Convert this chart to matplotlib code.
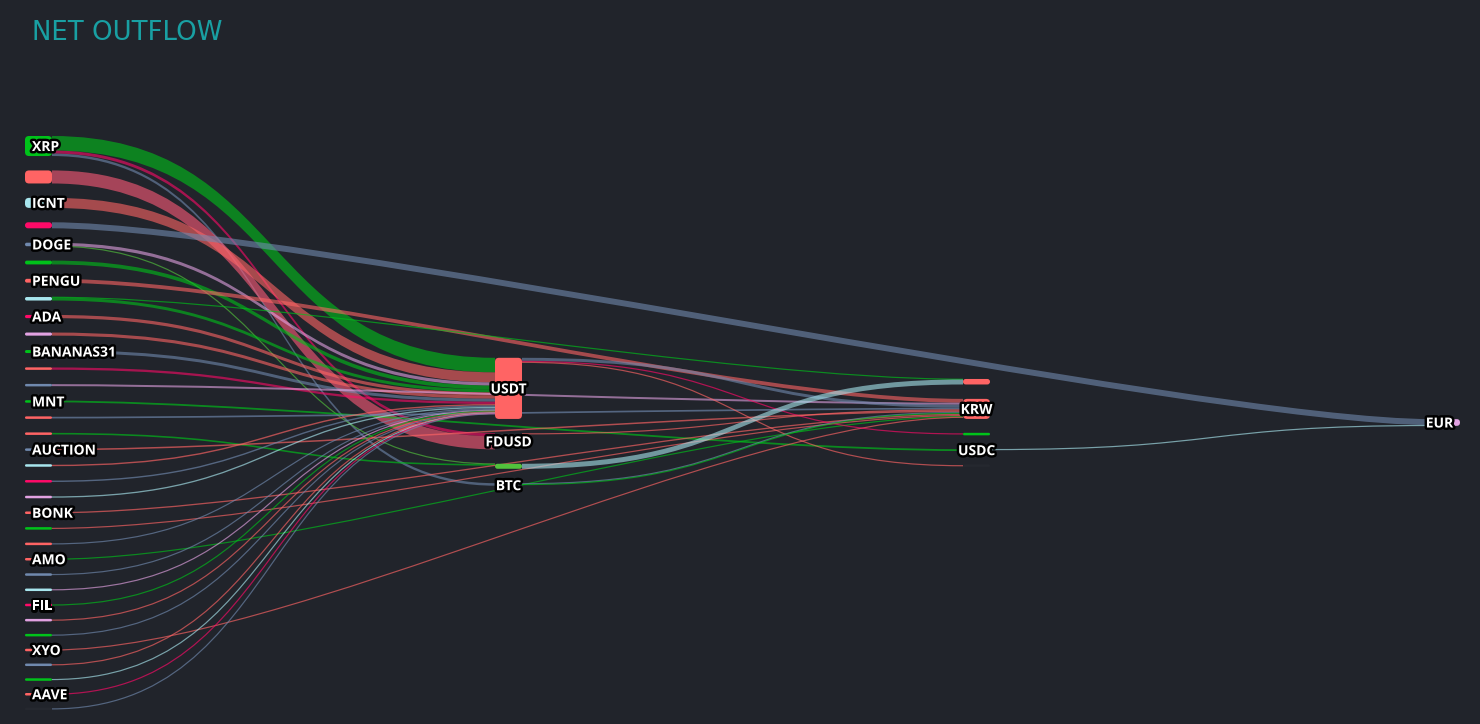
import matplotlib
matplotlib.use('Agg')
import matplotlib.pyplot as plt
import matplotlib.patheffects as pe
from matplotlib.path import Path
from matplotlib.patches import PathPatch, FancyBboxPatch

bg = '#21242b'
pal = {'green': '#00c21a', 'salmon': '#ff6464', 'rose': '#ff5a78', 'cyan': '#a8e6ee',
       'crimson': '#ff0a68', 'steel': '#7089ae', 'plum': '#e2a2e2',
       'lime': '#52c23c', 'dark': '#25282f'}

# nodes: ids starting with "_" have no visible label
nodes = ['XRP', '_a1', 'ICNT', '_a3', 'DOGE', '_a5', 'PENGU', '_a7', 'ADA', '_a9',
         'BANANAS31', '_a11', '_a12', 'MNT', '_a14', '_a15', 'AUCTION', '_a17',
         '_a18', '_a19', 'BONK', '_a21', '_a22', 'AMO', '_a24', '_a25', 'FIL',
         '_a27', '_a28', 'XYO', '_a30', '_a31', 'AAVE', '_a33',
         'USDT', 'FDUSD', '_m2', 'BTC',
         '_r0', 'KRW', '_r2', 'USDC', '_r4',
         'EUR']
node_col = [0] * 34 + [1] * 4 + [2] * 5 + [3]
node_color = ['green', 'salmon', 'cyan', 'crimson', 'steel', 'green', 'salmon', 'cyan',
              'crimson', 'plum', 'green', 'salmon', 'steel', 'green', 'salmon', 'salmon',
              'steel', 'cyan', 'crimson', 'plum', 'salmon', 'green', 'salmon', 'salmon',
              'steel', 'cyan', 'crimson', 'plum', 'green', 'salmon', 'steel', 'green',
              'salmon', 'dark',
              'salmon', 'dark', 'lime', 'dark',
              'salmon', 'salmon', 'green', 'dark', 'dark',
              'plum']
# explicit node values (net outflow), others come from the link sums
node_value = {'USDT': 61, 'FDUSD': 15, '_m2': 5, 'BTC': 4, '_r0': 5, 'KRW': 20,
              '_r2': 1.5, 'USDC': 1, '_r4': 0.5, 'EUR': 6.7}

links = [
    ('XRP', 'USDT', 14.5, 'green'), ('XRP', 'FDUSD', 3, 'crimson'), ('XRP', 'BTC', 2.5, 'steel'),
    ('_a1', 'FDUSD', 13, 'rose'),
    ('ICNT', 'USDT', 10, 'salmon'),
    ('_a3', 'EUR', 6, 'steel'),
    ('DOGE', 'USDT', 3.2, 'plum'), ('DOGE', '_m2', 0.3, 'lime'),
    ('_a5', 'USDT', 3.8, 'green'),
    ('PENGU', 'KRW', 3.8, 'salmon'),
    ('_a7', 'USDT', 3.0, 'green'), ('_a7', '_r0', 0.5, 'green'),
    ('ADA', 'USDT', 3.2, 'salmon'),
    ('_a9', 'USDT', 3.1, 'salmon'),
    ('BANANAS31', 'USDT', 3.0, 'steel'),
    ('_a11', 'USDT', 2.3, 'crimson'),
    ('_a12', 'KRW', 2.0, 'plum'),
    ('MNT', 'USDC', 1.8, 'green'),
    ('_a14', 'KRW', 1.7, 'steel'),
    ('_a15', '_m2', 1.6, 'green'),
    ('AUCTION', 'KRW', 1.5, 'salmon'),
    ('_a17', 'USDT', 1.4, 'salmon'),
    ('_a18', 'USDT', 1.4, 'steel'),
    ('_a19', 'USDT', 1.3, 'cyan'),
    ('BONK', 'KRW', 1.3, 'salmon'),
    ('_a21', 'KRW', 1.2, 'salmon'),
    ('_a22', 'USDT', 1.0, 'steel'),
    ('AMO', 'KRW', 0.9, 'green'),
    ('_a24', 'USDT', 0.9, 'steel'),
    ('_a25', 'USDT', 0.8, 'plum'),
    ('FIL', 'USDT', 0.8, 'green'),
    ('_a27', 'USDT', 0.7, 'salmon'),
    ('_a28', 'USDT', 0.5, 'steel'),
    ('XYO', 'KRW', 0.4, 'salmon'),
    ('_a30', 'USDT', 0.4, 'salmon'),
    ('_a31', 'USDT', 0.3, 'cyan'),
    ('AAVE', 'USDT', 0.3, 'crimson'),
    ('_a33', 'USDT', 0.2, 'steel'),
    ('USDT', 'KRW', 3, 'steel'), ('USDT', '_r2', 1.2, 'crimson'), ('USDT', '_r4', 0.6, 'salmon'),
    ('FDUSD', 'KRW', 1, 'salmon'),
    ('_m2', '_r0', 5, 'cyan'),
    ('BTC', 'KRW', 1, 'steel'), ('BTC', 'KRW', 0.8, 'green'),
    ('USDC', 'EUR', 0.7, 'cyan'),
]

# layout settings (pixels)
W, H = 1480, 724
col_x = [25, 495, 963, 1433]
node_w = 27
y_top, y_bot = 136, 709
gap = 14.4

idx = {n: i for i, n in enumerate(nodes)}
n = len(nodes)
out_sum = [0.0] * n
in_sum = [0.0] * n
for s, t, v, c in links:
    out_sum[idx[s]] += v
    in_sum[idx[t]] += v
val = [max(node_value.get(nodes[i], 0), out_sum[i], in_sum[i]) for i in range(n)]

cols = {}
for i in range(n):
    cols.setdefault(node_col[i], []).append(i)
ky = (y_bot - y_top - gap * (len(cols[0]) - 1)) / sum(val[i] for i in cols[0])
yc = (y_top + y_bot) / 2
ny0 = [0.0] * n
ny1 = [0.0] * n
for c, ids in cols.items():
    total = sum(val[i] * ky for i in ids) + gap * (len(ids) - 1)
    y = yc - total / 2
    for i in ids:
        ny0[i] = y
        ny1[i] = y + val[i] * ky
        y = ny1[i] + gap
mid = [(ny0[i] + ny1[i]) / 2 for i in range(n)]

# link offsets at both ends
src_off = {}
tgt_off = {}
for i in range(n):
    outs = sorted([k for k, l in enumerate(links) if idx[l[0]] == i], key=lambda k: mid[idx[links[k][1]]])
    y = ny0[i]
    for k in outs:
        src_off[k] = y
        y += links[k][2] * ky
    ins = sorted([k for k, l in enumerate(links) if idx[l[1]] == i], key=lambda k: mid[idx[links[k][0]]])
    y = ny0[i]
    for k in ins:
        tgt_off[k] = y
        y += links[k][2] * ky

fig = plt.figure(figsize=(W / 100, H / 100), dpi=100)
fig.patch.set_facecolor(bg)
ax = fig.add_axes([0, 0, 1, 1])
ax.set_facecolor(bg)
ax.set_xlim(0, W)
ax.set_ylim(H, 0)
ax.axis('off')

cp = 0.5 * (col_x[1] - col_x[0])
for k, (s, t, v, c) in enumerate(links):
    i, j = idx[s], idx[t]
    x0 = col_x[node_col[i]] + node_w
    x1 = col_x[node_col[j]]
    w = v * ky
    a0, b0 = src_off[k], tgt_off[k]
    if w >= 2:
        verts = [(x0, a0), (x0 + cp, a0), (x1 - cp, b0), (x1, b0),
                 (x1, b0 + w), (x1 - cp, b0 + w), (x0 + cp, a0 + w), (x0, a0 + w), (x0, a0)]
        codes = [Path.MOVETO, Path.CURVE4, Path.CURVE4, Path.CURVE4, Path.LINETO,
                 Path.CURVE4, Path.CURVE4, Path.CURVE4, Path.CLOSEPOLY]
        ax.add_patch(PathPatch(Path(verts, codes), facecolor=pal[c], edgecolor='none',
                               alpha=0.6, zorder=1))
    else:
        a0 += w / 2
        b0 += w / 2
        verts = [(x0, a0), (x0 + cp, a0), (x1 - cp, b0), (x1, b0)]
        codes = [Path.MOVETO, Path.CURVE4, Path.CURVE4, Path.CURVE4]
        ax.add_patch(PathPatch(Path(verts, codes), facecolor='none', edgecolor=pal[c],
                               lw=max(w, 1.2) * 0.72, alpha=0.65, capstyle='butt', zorder=1))

for i in range(n):
    x = col_x[node_col[i]]
    h = max(ny1[i] - ny0[i], 2.5)
    y = mid[i] - h / 2
    r = min(4, h / 2)
    ax.add_patch(FancyBboxPatch((x, y), node_w, h, boxstyle=f"round,pad=0,rounding_size={r}",
                                facecolor=pal[node_color[i]], edgecolor='none', zorder=2))

last = max(node_col)
for i in range(n):
    if nodes[i].startswith('_'):
        continue
    c = node_col[i]
    if c == 0:
        tx, ha = col_x[0] + 7, 'left'
    elif c == last:
        tx, ha = col_x[c] + node_w - 7, 'right'
    else:
        tx, ha = col_x[c] + node_w / 2, 'center'
    ax.text(tx, mid[i] + 1, nodes[i], color='white', fontsize=10, fontweight='bold',
            family='Open Sans', ha=ha, va='center', zorder=3,
            path_effects=[pe.withStroke(linewidth=3.5, foreground='black')])

ax.text(32, 40, 'NET OUTFLOW', color='#19a0a3', fontsize=18.7, family='DejaVu Sans',
        ha='left', va='baseline')

fig.savefig('out.png', dpi=100, facecolor=bg)
